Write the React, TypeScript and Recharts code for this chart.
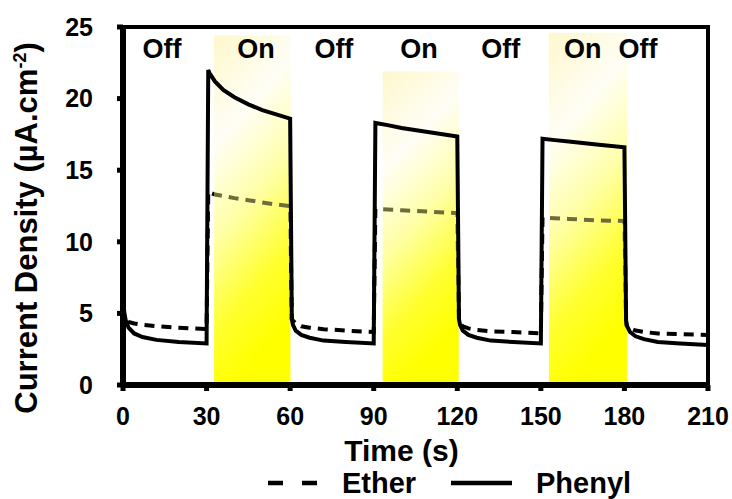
import React from 'react';
import { LineChart, Line, XAxis, YAxis, ReferenceArea, ReferenceDot, Legend } from 'recharts';

// ---- data ----
const TIME = [0, 0.5, 1, 2, 4, 7, 12, 20, 30, 30.6, 31, 33, 36, 40, 45, 50, 55, 60, 60.6, 61, 62, 64, 67, 72, 80, 90, 90.6, 95, 100, 110, 120, 120.6, 121, 122, 124, 127, 132, 140, 150, 150.6, 155, 160, 170, 180, 180.6, 181, 182, 184, 187, 192, 200, 210];
const PHENYL = [6.0, 5.0, 4.5, 4.0, 3.6, 3.35, 3.15, 3.0, 2.9, 22.0, 21.8, 21.2, 20.6, 20.1, 19.6, 19.2, 18.9, 18.6, 4.6, 4.2, 3.8, 3.5, 3.3, 3.1, 3.0, 2.9, 18.3, 18.15, 17.95, 17.65, 17.35, 4.6, 4.2, 3.8, 3.5, 3.3, 3.1, 3.0, 2.9, 17.2, 17.1, 17.0, 16.8, 16.6, 4.5, 4.1, 3.7, 3.4, 3.2, 3.0, 2.9, 2.8];
const ETHER = [5.5, 4.8, 4.5, 4.4, 4.3, 4.2, 4.1, 4.0, 3.9, 13.5, 13.45, 13.3, 13.2, 13.05, 12.9, 12.75, 12.6, 12.5, 4.6, 4.5, 4.3, 4.1, 4.0, 3.9, 3.8, 3.7, 12.3, 12.25, 12.2, 12.1, 12.0, 4.4, 4.3, 4.1, 3.95, 3.85, 3.75, 3.7, 3.6, 11.7, 11.65, 11.6, 11.5, 11.45, 4.2, 4.1, 3.95, 3.8, 3.7, 3.6, 3.55, 3.5];

const X_TICKS = [0, 30, 60, 90, 120, 150, 180, 210];
const Y_TICKS = [0, 5, 10, 15, 20, 25];

// illumination periods
const BAND_START = [32.7, 93.2, 152.9];
const BAND_END = [60.1, 120.5, 180.9];
const BAND_TOP = [24.4, 21.9, 24.6];

const STATE_LABELS = ['Off', 'On', 'Off', 'On', 'Off', 'On', 'Off'];
const STATE_X = [14.0, 47.7, 75.7, 106.3, 135.6, 165.0, 184.9];
const STATE_Y = 23.5;

const FONT = '"Liberation Sans", Arial, Helvetica, sans-serif';
const OLIVE = '#6e6d3a';

const XTitle = (props: any) => {
  const vb = props.viewBox || { x: 124, y: 385, width: 584, height: 74 };
  return (
    <text x={vb.x + vb.width / 2 - 14} y={vb.y + 76} textAnchor="middle" fontSize={30} fontWeight={700} fill="#000" fontFamily={FONT}>
      Time (s)
    </text>
  );
};

const YTitle = () => {
  const cx = 37;
  const cy = 228;
  return (
    <text x={cx} y={cy} transform={`rotate(-90 ${cx} ${cy})`} textAnchor="middle" fontSize={31} fontWeight={700} fill="#000" fontFamily={FONT}>
      Current Density (µA.cm
      <tspan dy={-11} fontSize={18}>-2</tspan>
      <tspan dy={11}>)</tspan>
    </text>
  );
};

const LEGEND_POS = [
  { x1: 268, x2: 318, tx: 342 },
  { x1: 451, x2: 512, tx: 536 },
];

const renderLegend = (props: any) => {
  const payload = props.payload || [];
  return (
    <svg width={732} height={40} style={{ display: 'block' }}>
      {payload.map((p: any, i: number) => {
        const pos = LEGEND_POS[i] || LEGEND_POS[0];
        const dashed = p.payload && p.payload.strokeDasharray;
        return (
          <g key={i}>
            <line x1={pos.x1} x2={pos.x2} y1={24} y2={24} stroke="#000" strokeWidth={4.5} strokeDasharray={dashed ? '15 19' : undefined} />
            <text x={pos.tx} y={34} fontSize={29} fontWeight={700} fill="#000" fontFamily={FONT}>
              {p.value}
            </text>
          </g>
        );
      })}
    </svg>
  );
};

export default function App() {
  const data = TIME.map((t, i) => ({ t, ether: ETHER[i], phenyl: PHENYL[i] }));
  const span = 210;
  const etherStops: { o: number; c: string }[] = [];
  etherStops.push({ o: 0, c: '#000' });
  BAND_START.forEach((s, i) => {
    etherStops.push({ o: s / span, c: '#000' });
    etherStops.push({ o: s / span, c: OLIVE });
    etherStops.push({ o: (BAND_END[i] - 0.4) / span, c: OLIVE });
    etherStops.push({ o: (BAND_END[i] - 0.4) / span, c: '#000' });
  });
  etherStops.push({ o: 1, c: '#000' });

  return (
    <div style={{ position: 'absolute', left: 0, top: 0, width: 732, height: 499, background: '#fff', fontFamily: FONT }}>
      <LineChart width={732} height={499} data={data} margin={{ top: 27, right: 24, left: 0, bottom: 0 }}>
        <defs>
          <linearGradient id="bandFill" x1="0" y1="0" x2="0.25" y2="1">
            <stop offset="0" stopColor="#fdf8cc" />
            <stop offset="0.12" stopColor="#fefadc" />
            <stop offset="0.3" stopColor="#fffef6" />
            <stop offset="0.55" stopColor="#ffffa8" />
            <stop offset="0.8" stopColor="#ffff30" />
            <stop offset="1" stopColor="#ffff00" />
          </linearGradient>
          <linearGradient id="etherStroke" x1="0" y1="0" x2="1" y2="0">
            {etherStops.map((s, i) => (
              <stop key={i} offset={s.o} stopColor={s.c} />
            ))}
          </linearGradient>
        </defs>
        {BAND_START.map((s, i) => (
          <ReferenceArea key={'b' + i} x1={s} x2={BAND_END[i]} y1={0} y2={BAND_TOP[i]} fill="url(#bandFill)" fillOpacity={1} stroke="none" />
        ))}
        <XAxis
          dataKey="t"
          type="number"
          domain={[0, 210]}
          ticks={X_TICKS}
          interval={0}
          height={74}
          tickSize={6}
          tickMargin={16}
          tick={{ fontSize: 25, fontWeight: 700, fill: '#000' }}
          tickLine={{ stroke: '#000', strokeWidth: 5 }}
          axisLine={{ stroke: '#000', strokeWidth: 6 }}
          label={<XTitle />}
        />
        <YAxis
          type="number"
          domain={[0, 25]}
          ticks={Y_TICKS}
          interval={0}
          width={123}
          tickSize={6}
          tickMargin={24}
          tick={{ fontSize: 25, fontWeight: 700, fill: '#000' }}
          tickLine={{ stroke: '#000', strokeWidth: 5 }}
          axisLine={{ stroke: '#000', strokeWidth: 6 }}
          label={<YTitle />}
        />
        <Line type="linear" dataKey="ether" name="Ether" stroke="url(#etherStroke)" strokeWidth={4} strokeDasharray="10 7" dot={false} activeDot={false} isAnimationActive={false} />
        <Line type="linear" dataKey="phenyl" name="Phenyl" stroke="#000" strokeWidth={4} dot={false} activeDot={false} isAnimationActive={false} />
        <ReferenceArea x1={0} x2={210} y1={0} y2={25} fill="none" stroke="#000" strokeWidth={4} />
        {STATE_LABELS.map((s, i) => (
          <ReferenceDot
            key={'s' + i}
            x={STATE_X[i]}
            y={STATE_Y}
            r={0}
            fill="none"
            stroke="none"
            label={{ value: s, position: 'center', fontSize: 27, fontWeight: 700, fill: '#000' }}
          />
        ))}
        <Legend verticalAlign="bottom" height={40} wrapperStyle={{ left: 0, bottom: 0, width: 732, height: 40 }} content={renderLegend} />
      </LineChart>
    </div>
  );
}
